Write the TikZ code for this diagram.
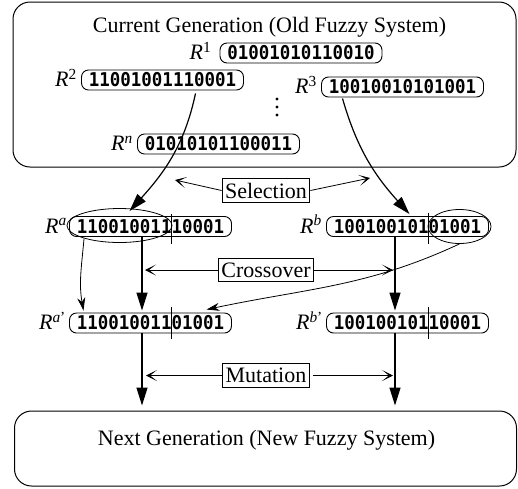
\documentclass[tikz,border=0pt]{standalone}
\usepackage{fontspec}
\setmainfont{Liberation Serif}
\newfontfamily\bitfont[FakeStretch=0.92]{DejaVu Sans Mono}
\usetikzlibrary{calc,positioning,shapes.geometric,arrows.meta}

\begin{document}
\begin{tikzpicture}[x=1pt,y=1pt,
	font=\fontsize{22}{26}\selectfont,
	gene/.style={draw, line width=0.9pt, rounded corners=7pt, minimum width=162, minimum height=20, inner sep=0pt, font=\bitfont\bfseries\fontsize{19}{20}\selectfont},
	rlab/.style={inner sep=0pt, anchor=base east},
	opbox/.style={draw, line width=1pt, inner xsep=3pt, inner ysep=4.5pt},
	genbox/.style={draw, line width=1pt, rounded corners=17pt},
	part/.style={draw, ellipse, line width=0.8pt, inner sep=0pt},
	cut/.style={line width=0.8pt},
	passarrow/.style={-{Triangle[length=18pt,width=11pt]}, line width=1.2pt},
	linkarrow/.style={-{Stealth[length=13pt,width=8pt]}, line width=0.8pt},
	oparrow/.style={-{Stealth[length=11pt,width=11pt,inset=7pt]}, line width=0.8pt},
	]
	\useasboundingbox (0,0) rectangle (518,-488);
	% 現世代
	\node[genbox, minimum width=503, minimum height=165] (cur) at (264.5,-84.5) {};
	\node[anchor=base] (curtxt) at (269.5,-32) {Current Generation (Old Fuzzy System)};
	\node[gene] (r1) at (301,-53) {01001010110010};
	\node[gene] (r2) at (162.5,-80) {11001001110001};
	\node[gene] (r3) at (402.5,-87) {10010010101001};
	\node[gene] (rn) at (218.5,-144) {01010101100011};
	\node[rlab] (l1) at ([xshift=-8pt]r1.base west) {\textit{R}\textsuperscript{1}};
	\node[rlab] (l2) at ([xshift=-4pt]r2.base west) {\textit{R}\textsuperscript{2}};
	\node[rlab] (l3) at ([xshift=-4pt]r3.base west) {\textit{R}\textsuperscript{3}};
	\node[rlab] (ln) at ([xshift=-4pt]rn.base west) {\textit{R}\textsuperscript{\textit{n}}};
	\foreach \y in {99,107,115}
		\fill (277,-\y) circle (1.6);
	% 親
	\node[gene] (ra) at (150.5,-226.5) {11001001110001};
	\node[gene] (rb) at (407.5,-226.5) {10010010101001};
	\node[rlab] (la) at ([xshift=-2pt]ra.base west) {\textit{R}\textsuperscript{\textit{a}}};
	\node[rlab] (lb) at ([xshift=-4pt]rb.base west) {\textit{R}\textsuperscript{\textit{b}}};
	\draw[cut] ($(ra.center)+(21,13)$) -- ($(ra.center)+(21,-17)$);
	\draw[cut] ($(rb.center)+(21,14)$) -- ($(rb.center)+(21,-17)$);
	\node[part, minimum width=105, minimum height=34] (sa) at ($(ra.center)+(-31,1)$) {};
	\node[part, minimum width=63, minimum height=34] (sb) at ($(rb.center)+(52,0)$) {};
	% 子
	\node[gene] (ra2) at (150.5,-323) {11001001101001};
	\node[gene] (rb2) at (407.5,-323) {10010010110001};
	\node[rlab] (la2) at ([xshift=-3pt]ra2.base west) {\textit{R}\textsuperscript{\textit{a}'}};
	\node[rlab] (lb2) at ([xshift=-3pt]rb2.base west) {\textit{R}\textsuperscript{\textit{b}'}};
	\draw[cut] ($(ra2.center)+(21,16)$) -- ($(ra2.center)+(21,-16)$);
	\draw[cut] ($(rb2.center)+(21,16)$) -- ($(rb2.center)+(21,-16)$);
	% 次世代
	\node[genbox, minimum width=502, minimum height=75] (next) at (265.5,-448.5) {};
	\node[anchor=base] (nexttxt) at (266.5,-445) {Next Generation (New Fuzzy System)};
	% 操作ラベル
	\node[opbox] (sel) at (266,-190.5) {Selection};
	\node[opbox] (xo) at (266,-270) {Crossover};
	\node[opbox] (mu) at (266,-375.5) {Mutation};
	\coordinate (selL) at (175,-180);
	\coordinate (selR) at (370,-178);
	\coordinate (xoL) at (145,-270);
	\coordinate (xoR) at (393,-270);
	\coordinate (muL) at (146,-375.5);
	\coordinate (muR) at (393,-375.5);
	\draw[oparrow] (sel.west) -- (selL);
	\draw[oparrow] (sel.east) -- (selR);
	\draw[oparrow] (xo.west) -- (xoL);
	\draw[oparrow] (xo.east) -- (xoR);
	\draw[oparrow] (mu.west) -- (muL);
	\draw[oparrow] ([xshift=3pt]mu.east) -- (muR);
	% 選択の矢印
	\draw[passarrow] ($(r2.south)+(33,-3)$) to[out=258,in=48] ($(sa.north)+(10,-3)$);
	\draw[passarrow] ($(r3.south)+(-60,-1)$) to[out=286,in=132] ($(rb.north)+(2,2)$);
	% 交叉の矢印
	\draw[passarrow] ($(ra.south)+(-8.5,0)$) -- ($(ra2.north)+(-8.5,2)$);
	\draw[passarrow] ($(rb.south)+(-12.5,0)$) -- ($(rb2.north)+(-12.5,2)$);
	\draw[linkarrow] (sa.200) to[out=265,in=100] ($(ra2.north)+(-67,2)$);
	\draw[linkarrow] (sb.south) to[out=205,in=12] ($(ra2.north)+(56,3)$);
	% 突然変異の矢印
	\coordinate (ma) at ($(ra2.south)+(-8.5,0)$);
	\coordinate (mb) at ($(rb2.south)+(-12.5,0)$);
	\draw[passarrow, shorten >=5pt] (ma) -- (ma |- next.north);
	\draw[passarrow, shorten >=5pt] (mb) -- (mb |- next.north);
\end{tikzpicture}
\end{document}
